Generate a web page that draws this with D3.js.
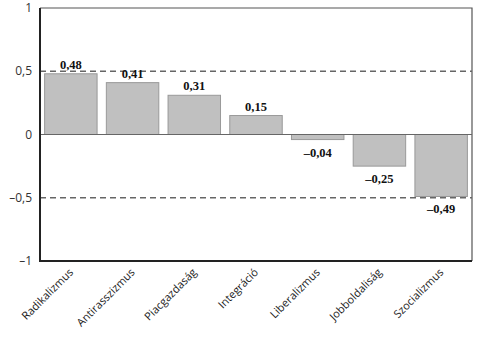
<!DOCTYPE html>
<html><head><meta charset="utf-8">
<script src="https://cdn.jsdelivr.net/npm/d3@7"></script>
<style>body{margin:0;background:#fff}svg{display:block}</style>
</head><body>
<svg id="c" width="480" height="339"></svg>
<script>
const categories = ["Radikalizmus","Antirasszizmus","Piacgazdaság","Integráció","Liberalizmus","Jobboldaliság","Szocializmus"];
const values = [0.48, 0.41, 0.31, 0.15, -0.04, -0.25, -0.49];
const valueLabels = ["0,48","0,41","0,31","0,15","\u20130,04","\u20130,25","\u20130,49"];
const yTicks = [1, 0.5, 0, -0.5, -1];
const yTickLabels = ["1","0,5","0","\u20130,5","\u20131"];
const dashedAt = [0.5, -0.5];

const svg = d3.select("#c");
const L = 40, R = 472, T = 8, B = 261;
const x = d3.scaleBand().domain(categories).range([L, R]).paddingInner(0.15).paddingOuter(0.075);
const y = d3.scaleLinear().domain([-1, 1]).range([B, T]);

// frame top/right
svg.append("path").attr("d", `M${L},${T}H${R}V${B}`).attr("fill","none").attr("stroke","#555").attr("stroke-width",1.2);

// bars
svg.selectAll("rect.bar").data(values).join("rect")
  .attr("x", (d,i) => x(categories[i]))
  .attr("width", x.bandwidth())
  .attr("y", d => y(Math.max(0,d)))
  .attr("height", d => Math.abs(y(d) - y(0)))
  .attr("fill", "#c0c0c0").attr("stroke", "#999").attr("stroke-width", 1);

// dashed lines
svg.selectAll("line.d").data(dashedAt).join("line")
  .attr("x1", L).attr("x2", R).attr("y1", d => y(d)).attr("y2", d => y(d))
  .attr("stroke", "#666").attr("stroke-width", 1.3).attr("stroke-dasharray", "6,4");

// zero line
svg.append("line").attr("x1", L).attr("x2", R).attr("y1", y(0)).attr("y2", y(0))
  .attr("stroke", "#666").attr("stroke-width", 1.2);

// left & bottom axis lines
svg.append("path").attr("d", `M${L},${T}V${B}H${R}`).attr("fill","none").attr("stroke","#222").attr("stroke-width",2);

// y tick labels
svg.selectAll("text.yt").data(yTicks).join("text")
  .attr("x", L - 8).attr("y", d => y(d) + 4)
  .attr("text-anchor", "end")
  .attr("font-family", "'Open Sans', sans-serif").attr("font-size", 12).attr("fill", "#333")
  .text((d,i) => yTickLabels[i]);

// value labels
svg.selectAll("text.v").data(values).join("text")
  .attr("x", (d,i) => x(categories[i]) + x.bandwidth()/2)
  .attr("y", d => d >= 0 ? y(d) - 5 : y(d) + 17)
  .attr("text-anchor", "middle")
  .attr("font-family", "'Liberation Serif', serif").attr("font-weight", "bold").attr("font-size", 12.5).attr("fill", "#111")
  .text((d,i) => valueLabels[i]);

// category labels
svg.selectAll("text.c").data(categories).join("text")
  .attr("transform", d => `translate(${x(d) + x.bandwidth()/2 + 3},${B + 12}) rotate(-45)`)
  .attr("text-anchor", "end")
  .attr("font-family", "'Open Sans', sans-serif").attr("font-size", 11).attr("fill", "#222")
  .text(d => d);
</script>
</body></html>
